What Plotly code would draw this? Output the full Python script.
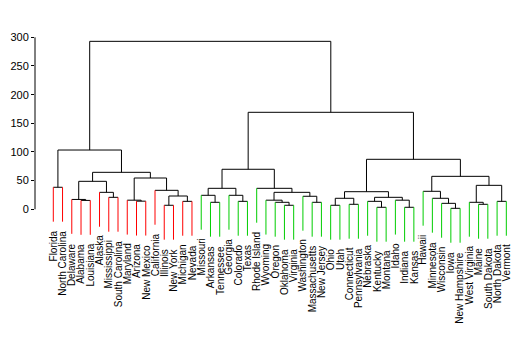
import plotly.graph_objects as go

labels = ["Florida", "North Carolina", "Delaware", "Alabama", "Louisiana", "Alaska",
          "Mississippi", "South Carolina", "Maryland", "Arizona", "New Mexico", "California",
          "Illinois", "New York", "Michigan", "Nevada", "Missouri", "Arkansas", "Tennessee",
          "Georgia", "Colorado", "Texas", "Rhode Island", "Wyoming", "Oregon", "Oklahoma",
          "Virginia", "Washington", "Massachusetts", "New Jersey", "Ohio", "Utah",
          "Connecticut", "Pennsylvania", "Nebraska", "Kentucky", "Montana", "Idaho",
          "Indiana", "Kansas", "Hawaii", "Minnesota", "Wisconsin", "Iowa", "New Hampshire",
          "West Virginia", "Maine", "South Dakota", "North Dakota", "Vermont"]

# cluster of each leaf (1 = red group, 2 = green group)
leaf_group = [1] * 16 + [2] * 34

# R-style merge table: negative = leaf (1-based position), positive = earlier merge (1-based)
merge_a = [-44, -36, -39, -13, -26, -31, -33, -47, -43, -18, -25, -29, -46, -21, -15, -35,
           -49, -10, -4, -9, -24, -38, -3, -7, 16, -28, 4, -17, -20, -42, 6, -6, 21, 31,
           -41, -12, 28, -23, -1, 13, 23, 20, 35, 41, 37, 34, 39, 45, 47]
merge_b = [-45, -37, -40, -14, -27, -32, -34, -48, 1, -19, 5, -30, 8, -22, -16, 2,
           -50, -11, -5, 18, 11, 3, 19, -8, 22, 12, 15, 10, 14, 9, 7, 24, 26, 25,
           30, 27, 29, 33, -2, 17, 32, 36, 40, 42, 38, 43, 44, 46, 48]
merge_h = [1.7, 3.5, 3.5, 7.0, 7.0, 7.0, 8.7, 8.7, 10.4, 12.2, 12.2, 12.2, 12.2, 13.9, 13.9,
           13.9, 13.9, 14.2, 15.5, 15.9, 15.9, 15.9, 17.2, 20.9, 20.9, 22.7, 23.2, 24.4,
           24.4, 19.2, 19.2, 29.6, 29.6, 30.7, 31.4, 33.1, 36.6, 36.6, 38.4, 41.8, 48.8,
           54.6, 57.5, 64.5, 69.8, 87.2, 103.4, 169.2, 293.0]

hang = 60.0
y_ticks = [0, 50, 100, 150, 200, 250, 300]

colors = {1: "#FF0000", 2: "#00CD00"}
FONT = "Liberation Sans, Arial, sans-serif"

node_x = {}
node_h = {}


def child_pos(c):
    if c < 0:
        return float(-c), None
    return node_x[c], node_h[c]


black_x, black_y = [], []
leaf_x = {1: [], 2: []}
leaf_y = {1: [], 2: []}
leaf_bottom = {}

for i, (a, b, h) in enumerate(zip(merge_a, merge_b, merge_h), start=1):
    xa, ha = child_pos(a)
    xb, hb = child_pos(b)
    black_x += [xa, xb, None]
    black_y += [h, h, None]
    for c, xc, hc in ((a, xa, ha), (b, xb, hb)):
        if c < 0:
            g = leaf_group[-c - 1]
            leaf_x[g] += [xc, xc, None]
            leaf_y[g] += [h - hang, h, None]
            leaf_bottom[-c] = h - hang
        else:
            black_x += [xc, xc, None]
            black_y += [hc, h, None]
    node_x[i] = (xa + xb) / 2.0
    node_h[i] = h

fig = go.Figure()
fig.add_trace(go.Scatter(x=black_x, y=black_y, mode="lines",
                         line=dict(color="black", width=1), hoverinfo="skip"))
for g in (1, 2):
    fig.add_trace(go.Scatter(x=leaf_x[g], y=leaf_y[g], mode="lines",
                             line=dict(color=colors[g], width=1), hoverinfo="skip"))

for k, name in enumerate(labels, start=1):
    fig.add_annotation(x=k, y=leaf_bottom[k], text=name, showarrow=False,
                       textangle=-90, xanchor="center", yanchor="top", yshift=-7,
                       font=dict(family=FONT, size=10, color="black"))

# y axis line from 0 to 300 only
fig.add_shape(type="line", xref="paper", yref="y", x0=0, x1=0, y0=0, y1=300,
              line=dict(color="black", width=1))

fig.update_layout(
    width=525, height=340,
    margin=dict(l=35, r=0, t=0, b=0),
    paper_bgcolor="white", plot_bgcolor="white",
    showlegend=False,
    xaxis=dict(range=[-0.979, 52.02], visible=False, fixedrange=True),
    yaxis=dict(range=[-228.0, 365.1], tickvals=y_ticks, ticktext=[str(v) for v in y_ticks],
               ticks="outside", ticklen=3, tickcolor="black", tickwidth=1,
               showgrid=False, zeroline=False, showline=False,
               tickfont=dict(family=FONT, size=11, color="black"), fixedrange=True),
)

fig.write_html("out.html")
